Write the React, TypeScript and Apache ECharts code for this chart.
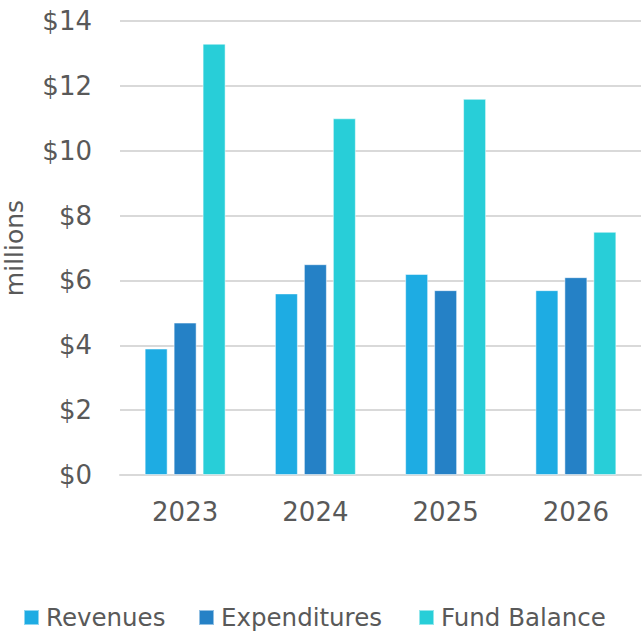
import React, { useEffect, useRef } from "react";
import * as echarts from "echarts";

const categories = ["2023", "2024", "2025", "2026"];
const revenues = [3.9, 5.6, 6.2, 5.7];
const expenditures = [4.7, 6.5, 5.7, 6.1];
const fundBalance = [13.3, 11.0, 11.6, 7.5];
const seriesNames = ["Revenues", "Expenditures", "Fund Balance"];
const colors = ["#1eace3", "#2581c6", "#28ced8"];

const FONT = "DejaVu Sans";
const TEXT = "#595959";
const legendLefts = [23, 198, 418];

export default function App() {
  const ref = useRef<HTMLDivElement>(null);
  useEffect(() => {
    const chart = echarts.init(ref.current!, null, { renderer: "svg" });
    const data = [revenues, expenditures, fundBalance];
    chart.setOption({
      animation: false,
      grid: { left: 120, right: 1, top: 21, bottom: 156, containLabel: false, outerBoundsMode: "none" },
      legend: seriesNames.map((name, i) => ({
        data: [name],
        left: legendLefts[i],
        top: 605,
        padding: 0,
        itemWidth: 15,
        itemHeight: 15,
        itemGap: 0,
        icon: "rect",
        textStyle: { fontFamily: FONT, fontSize: 24.5, color: TEXT, padding: [0, 0, 0, 2] },
      })),
      xAxis: {
        type: "category",
        data: categories,
        axisLine: { lineStyle: { color: "#d9d9d9", width: 2 } },
        axisTick: { show: false },
        axisLabel: { fontFamily: FONT, fontSize: 26, color: TEXT, margin: 24 },
      },
      yAxis: {
        type: "value",
        min: 0,
        max: 14,
        interval: 2,
        name: "millions",
        nameLocation: "middle",
        nameRotate: 90,
        nameGap: 93,
        nameTextStyle: { fontFamily: FONT, fontSize: 25, color: TEXT },
        axisLine: { show: false },
        axisTick: { show: false },
        splitLine: { lineStyle: { color: "#d9d9d9", width: 2 } },
        axisLabel: {
          fontFamily: FONT,
          fontSize: 26,
          color: TEXT,
          margin: 28,
          formatter: (v: number) => "$" + v,
        },
      },
      series: seriesNames.map((name, i) => ({
        name,
        type: "bar",
        data: data[i],
        barWidth: 23,
        barGap: "26%",
        itemStyle: { color: colors[i], borderColor: "rgba(255,255,255,0.5)", borderWidth: 1 },
      })),
    });
    return () => chart.dispose();
  }, []);
  return <div ref={ref} style={{ width: 642, height: 631, position: "absolute", left: 0, top: 0 }} />;
}
